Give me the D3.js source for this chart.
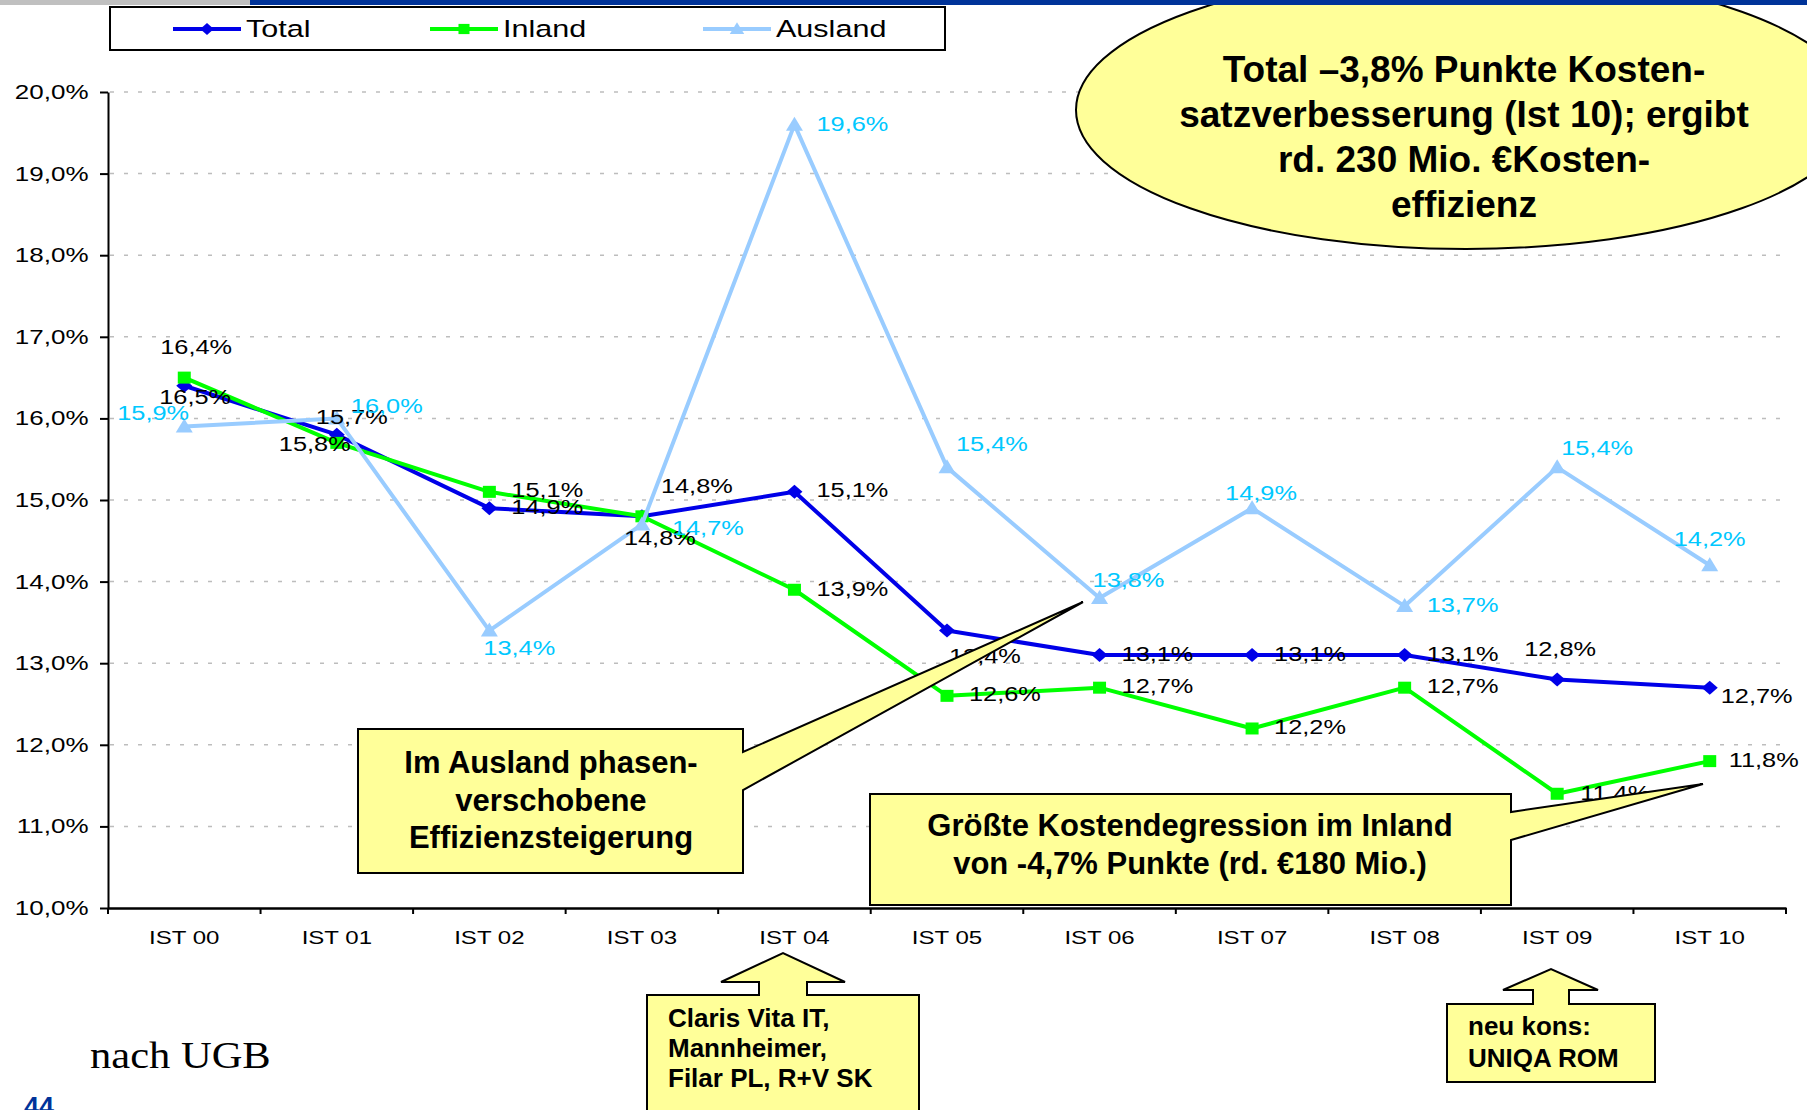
<!DOCTYPE html>
<html>
<head>
<meta charset="utf-8">
<script src="https://cdn.jsdelivr.net/npm/d3@7"></script>
<style>
  body { margin: 0; background: #fff; }
  svg { display: block; }
</style>
</head>
<body>
<script>
// chart data
var categories = ["IST 00", "IST 01", "IST 02", "IST 03", "IST 04", "IST 05",
  "IST 06", "IST 07", "IST 08", "IST 09", "IST 10"];
var total = [16.4, 15.8, 14.9, 14.8, 15.1, 13.4, 13.1, 13.1, 13.1, 12.8, 12.7];
var inland = [16.5, 15.7, 15.1, 14.8, 13.9, 12.6, 12.7, 12.2, 12.7, 11.4, 11.8];
var ausland = [15.9, 16.0, 13.4, 14.7, 19.6, 15.4, 13.8, 14.9, 13.7, 15.4, 14.2];
var yTicks = [10, 11, 12, 13, 14, 15, 16, 17, 18, 19, 20];
var seriesNames = ["Total", "Inland", "Ausland"];

// where each data label sits relative to its point (left edge, vertical centre)
var totalLabelNudge = [[-24, -38], [-58, 10], [22, -1], [19, -30], [22, -1], [2, 26],
  [22, -1], [22, -1], [22, -1], [-33, -30], [11, 9]];
var inlandLabelNudge = [[-25, 20], [-21, -25], [22, -1], [-18, 22], [22, 0], [22, -1],
  [22, -1], [22, -1], [22, -1], [23, 0], [19, -1]];
var auslandLabelNudge = [[-67, -13], [14, -12], [-6, 18], [30, 4], [22, 0], [9, -23],
  [-7, -17], [-27, -15], [22, -1], [4, -19], [-36, -26]];

var W = 1807, H = 1110;
var FONT = "'Liberation Sans', Arial, sans-serif";
var STRETCH = 1.3; // chart object text is stretched wide on the slide
var YELLOW = "#ffff99";

var svg = d3.select("body").append("svg")
  .attr("width", W)
  .attr("height", H);

var x = d3.scaleBand()
  .domain(categories)
  .range([108, 1786])
  .padding(0);

var y = d3.scaleLinear()
  .domain([10, 20])
  .range([908, 92]);

var fmt = function (v) { return v.toFixed(1).replace(".", ",") + "%"; };
var cx = function (i) { return x(categories[i]) + x.bandwidth() / 2; };

// gridlines
svg.append("g")
  .selectAll("line")
  .data(yTicks.filter(d => d > 10))
  .enter()
  .append("line")
  .attr("x1", 110)
  .attr("x2", x.range()[1])
  .attr("y1", d => y(d))
  .attr("y2", d => y(d))
  .attr("stroke", "#bdbdbd")
  .attr("stroke-width", 1.5)
  .attr("stroke-dasharray", "4,10");

// y axis
var yAxis = svg.append("g")
  .attr("transform", "translate(108,0)")
  .call(d3.axisLeft(y).tickValues(yTicks).tickSizeInner(8).tickSizeOuter(0)
    .tickPadding(7).tickFormat(fmt));
yAxis.select(".domain").attr("stroke", "#000").attr("stroke-width", 2);
yAxis.selectAll(".tick line").attr("stroke", "#000").attr("stroke-width", 2);
yAxis.selectAll(".tick text")
  .attr("fill", "#000")
  .style("font-family", FONT)
  .style("font-size", "20px")
  .attr("transform", "scale(" + STRETCH + ",1)");

// x axis, ticks sit on the category boundaries
var xAxis = svg.append("g")
  .attr("transform", "translate(0,908)")
  .call(d3.axisBottom(x).tickSize(0).tickSizeOuter(0).tickPadding(23));
xAxis.select(".domain").attr("stroke", "#000").attr("stroke-width", 2.5);
xAxis.selectAll(".tick text")
  .attr("fill", "#000")
  .style("font-family", FONT)
  .style("font-size", "18.5px")
  .attr("transform", "scale(" + STRETCH + ",1)");

var bounds = categories.map(c => x(c)).concat([x.range()[1]]);
xAxis.selectAll(".bound")
  .data(bounds)
  .enter()
  .append("line")
  .attr("class", "bound")
  .attr("x1", d => d)
  .attr("x2", d => d)
  .attr("y1", 0)
  .attr("y2", 6)
  .attr("stroke", "#000")
  .attr("stroke-width", 2);

// markers
function markerPath(type, s) {
  s = s || 1;
  if (type === "diamond") {
    return "M0," + (-7 * s) + "L" + (8 * s) + ",0L0," + (7 * s) + "L" + (-8 * s) + ",0Z";
  }
  if (type === "square") {
    return "M" + (-6.5 * s) + "," + (-6 * s) + "h" + (13 * s) + "v" + (12 * s) + "h" + (-13 * s) + "Z";
  }
  return "M0," + (-8 * s) + "L" + (8.5 * s) + "," + (6 * s) + "L" + (-8.5 * s) + "," + (6 * s) + "Z";
}

var series = [
  { name: seriesNames[0], values: total, color: "#0000e8", marker: "diamond", labelColor: "#000", nudge: totalLabelNudge },
  { name: seriesNames[1], values: inland, color: "#00ff00", marker: "square", labelColor: "#000", nudge: inlandLabelNudge },
  { name: seriesNames[2], values: ausland, color: "#99ccff", marker: "triangle", labelColor: "#00c8ff", nudge: auslandLabelNudge }
];

// ellipse callout (behind the lines, over the grid)
svg.append("ellipse")
  .attr("cx", 1466)
  .attr("cy", 110)
  .attr("rx", 390)
  .attr("ry", 139)
  .attr("fill", YELLOW)
  .attr("stroke", "#000")
  .attr("stroke-width", 2);

var ellipseLines = ["Total \u20133,8% Punkte Kosten-", "satzverbesserung (Ist 10); ergibt",
  "rd. 230 Mio. \u20acKosten-", "effizienz"];
svg.append("g")
  .selectAll("text")
  .data(ellipseLines)
  .enter()
  .append("text")
  .attr("x", 1464)
  .attr("y", (d, i) => 82 + i * 45)
  .attr("text-anchor", "middle")
  .style("font-family", FONT)
  .style("font-weight", "bold")
  .style("font-size", "37px")
  .text(d => d);

var line = d3.line()
  .x((d, i) => cx(i))
  .y(d => y(d));

series.forEach(function (s) {
  svg.append("path")
    .datum(s.values)
    .attr("d", line)
    .attr("fill", "none")
    .attr("stroke", s.color)
    .attr("stroke-width", 4)
    .attr("stroke-linejoin", "round");

  svg.append("g")
    .selectAll("path")
    .data(s.values)
    .enter()
    .append("path")
    .attr("d", markerPath(s.marker))
    .attr("transform", (d, i) => "translate(" + cx(i) + "," + y(d) + ")")
    .attr("fill", s.color);
});

series.forEach(function (s) {
  svg.append("g")
    .selectAll("g")
    .data(s.values)
    .enter()
    .append("g")
    .attr("transform", (d, i) => "translate(" + (cx(i) + s.nudge[i][0]) + "," + (y(d) + s.nudge[i][1]) + ")")
    .append("text")
    .attr("transform", "scale(" + STRETCH + ",1)")
    .attr("dominant-baseline", "central")
    .attr("fill", s.labelColor)
    .style("font-family", FONT)
    .style("font-size", "19.5px")
    .text(d => fmt(d));
});

// legend
var legend = svg.append("g");
legend.append("rect")
  .attr("x", 110)
  .attr("y", 7)
  .attr("width", 835)
  .attr("height", 43)
  .attr("fill", "#fff")
  .attr("stroke", "#000")
  .attr("stroke-width", 2);

var legendX = [173, 430, 703];
var legendItem = legend.selectAll(".item")
  .data(series)
  .enter()
  .append("g")
  .attr("class", "item")
  .attr("transform", (d, i) => "translate(" + legendX[i] + ",29)");
legendItem.append("line")
  .attr("x1", 0)
  .attr("x2", 68)
  .attr("stroke", d => d.color)
  .attr("stroke-width", 4);
legendItem.append("path")
  .attr("d", d => markerPath(d.marker, 0.85))
  .attr("transform", "translate(34,0)")
  .attr("fill", d => d.color);
legendItem.append("text")
  .attr("x", 73 / STRETCH)
  .attr("transform", "scale(" + STRETCH + ",1)")
  .attr("dominant-baseline", "central")
  .style("font-family", FONT)
  .style("font-size", "23.5px")
  .text(d => d.name);

// callout boxes
function callout(d) {
  svg.append("path")
    .attr("d", d)
    .attr("fill", YELLOW)
    .attr("stroke", "#000")
    .attr("stroke-width", 2)
    .attr("stroke-linejoin", "miter");
}

function textBlock(lines, x0, y0, step, size, anchor) {
  svg.append("g")
    .selectAll("text")
    .data(lines)
    .enter()
    .append("text")
    .attr("x", x0)
    .attr("y", (d, i) => y0 + i * step)
    .attr("text-anchor", anchor)
    .style("font-family", FONT)
    .style("font-weight", "bold")
    .style("font-size", size + "px")
    .text(d => d);
}

callout("M358,729H743V752L1083,602L743,790V873H358Z");
textBlock(["Im Ausland phasen-", "verschobene", "Effizienzsteigerung"], 551, 773, 37.5, 31, "middle");

callout("M870,794H1511V812L1703,784L1511,840V905H870Z");
textBlock(["Gr\u00f6\u00dfte Kostendegression im Inland", "von -4,7% Punkte (rd. \u20ac180 Mio.)"], 1190, 836, 37.5, 31, "middle");

callout("M647,995H759V982H721L783,953L845,982H807V995H919V1125H647Z");
textBlock(["Claris Vita IT,", "Mannheimer,", "Filar PL, R+V SK"], 668, 1027, 30, 26, "start");

callout("M1447,1004H1533V990H1503L1551,969L1598,990H1569V1004H1655V1082H1447Z");
textBlock(["neu kons:", "UNIQA ROM"], 1468, 1035, 32, 26, "start");

// slide furniture
svg.append("text")
  .attr("transform", "translate(90,1068) scale(1.15,1)")
  .style("font-family", "'Liberation Serif', 'Times New Roman', serif")
  .style("font-size", "37px")
  .text("nach UGB");

svg.append("text")
  .attr("x", 24)
  .attr("y", 1116)
  .attr("fill", "#003399")
  .style("font-family", FONT)
  .style("font-weight", "bold")
  .style("font-size", "27px")
  .text("44");

svg.append("rect").attr("x", 0).attr("y", 0).attr("width", 250).attr("height", 5).attr("fill", "#c0c0c0");
svg.append("rect").attr("x", 250).attr("y", 0).attr("width", W - 250).attr("height", 5).attr("fill", "#003399");
</script>
</body>
</html>
